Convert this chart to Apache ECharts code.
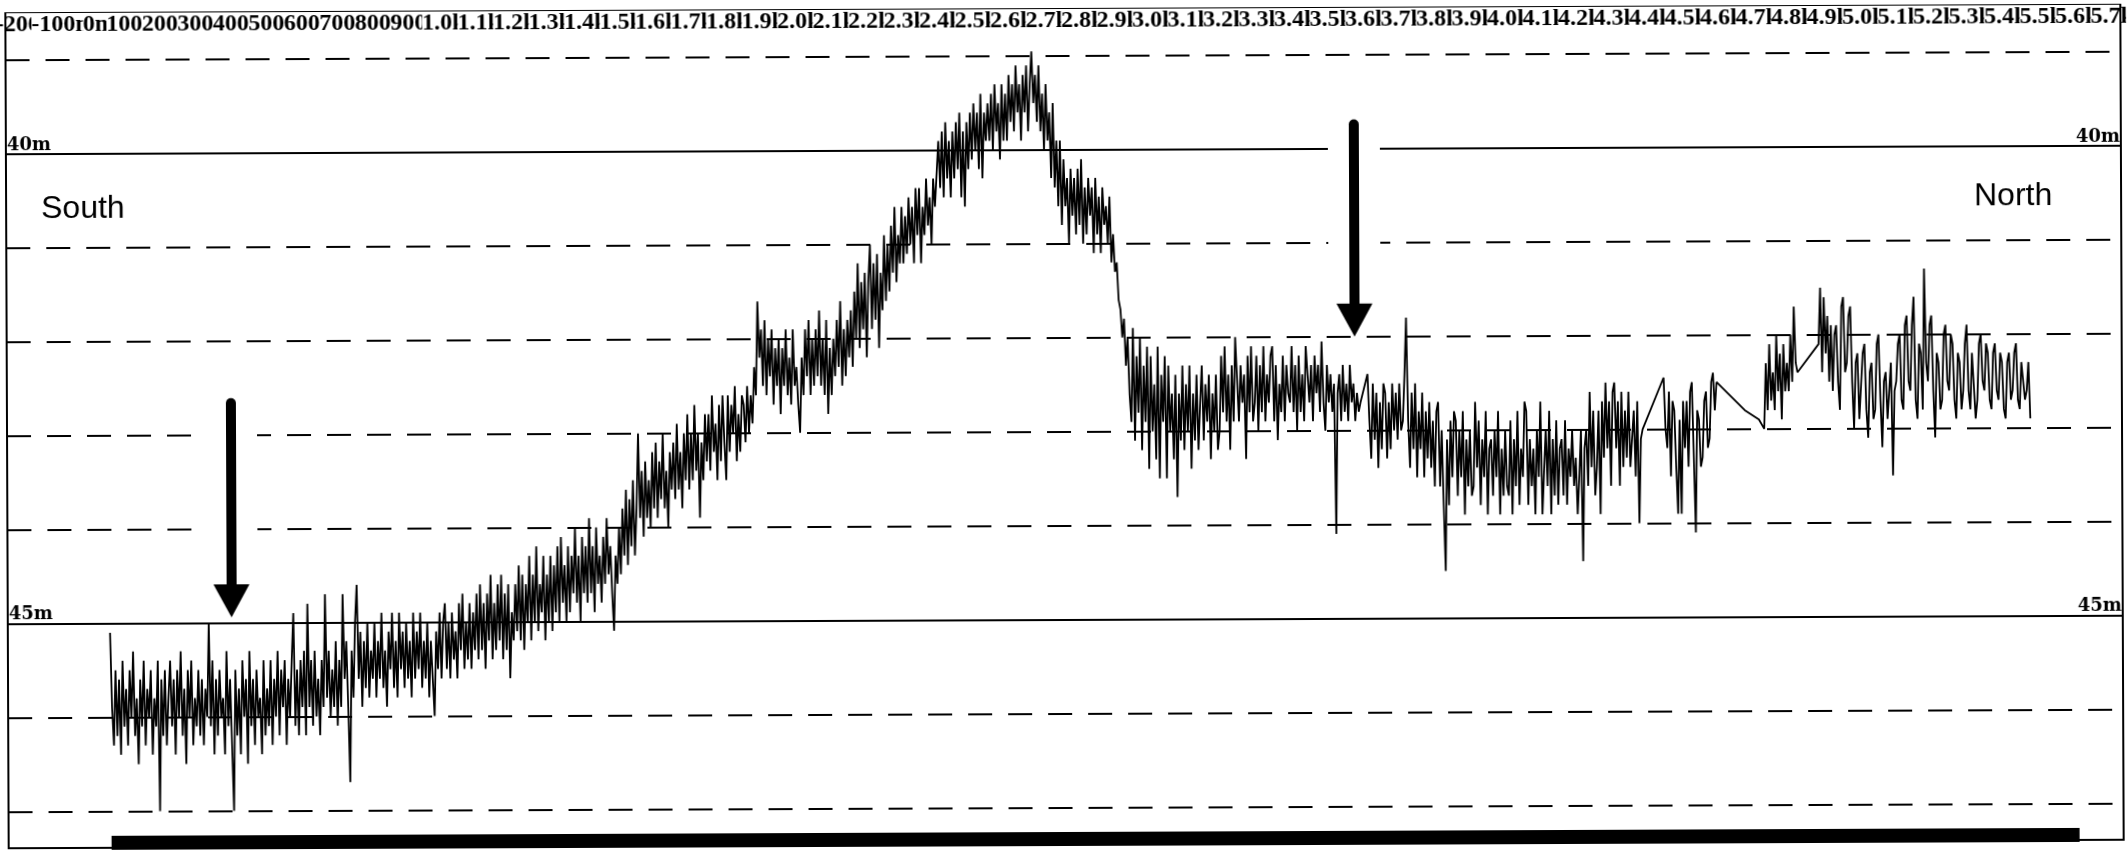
<!DOCTYPE html>
<html>
<head>
<meta charset="utf-8">
<script src="https://cdn.jsdelivr.net/npm/echarts@6/dist/echarts.min.js"></script>
<style>
  html, body { margin: 0; padding: 0; background: #fff; overflow: hidden; }
  #chart { width: 2128px; height: 851px; transform: rotate(-0.23deg); transform-origin: 50% 50%; }
</style>
</head>
<body>
<div id="chart"></div>
<script>
// Distance tick labels along the top edge (one per 100 m band)
const distanceLabels = [
  '-200m','-100m','0m','100m','200m','300m','400m','500m','600m','700m','800m','900m',
  '1.0km','1.1km','1.2km','1.3km','1.4km','1.5km','1.6km','1.7km','1.8km','1.9km',
  '2.0km','2.1km','2.2km','2.3km','2.4km','2.5km','2.6km','2.7km','2.8km','2.9km',
  '3.0km','3.1km','3.2km','3.3km','3.4km','3.5km','3.6km','3.7km','3.8km','3.9km',
  '4.0km','4.1km','4.2km','4.3km','4.4km','4.5km','4.6km','4.7km','4.8km','4.9km',
  '5.0km','5.1km','5.2km','5.3km','5.4km','5.5km','5.6km','5.7km'
];

// Depth reference lines (m); 40 m and 45 m are drawn solid and labelled
const depthLines = [39, 40, 41, 42, 43, 44, 45, 46, 47];
const labelledDepths = [40, 45];

// Soundings are logged every 5 m along track; each run starts at the distance below
const pingSpacing = 5;
const runStarts = [40, 3610, 4450, 4680, 4720, 4735, 4890];

// Run 1: 40 m - 3590 m (south flat, slope, crest and drop)
const depthsRun1 = [
  45.1,45.9,46.3,45.5,46.2,45.6,46.4,45.4,46.1,45.7,
  46.3,45.5,46.0,45.3,46.2,45.8,46.5,45.6,46.1,45.4,
  46.3,45.7,46.0,45.5,46.4,45.8,46.1,45.4,47.0,45.6,
  46.2,45.5,46.3,45.8,45.4,46.1,45.6,46.4,45.5,46.0,
  45.3,46.2,45.7,46.5,45.5,46.0,45.4,46.3,45.8,46.1,
  45.5,46.2,45.6,46.3,45.7,46.0,45.0,46.1,45.4,46.4,
  45.6,46.2,45.5,46.0,45.8,46.4,45.3,46.1,45.6,46.3,
  47.0,45.5,46.2,45.7,46.4,45.4,46.0,45.6,46.5,45.3,
  46.1,45.6,46.3,45.5,46.0,45.8,46.4,45.4,46.2,45.7,
  46.1,45.4,46.3,45.6,46.0,45.3,46.2,45.5,45.9,45.4,
  46.3,45.6,46.0,45.4,44.9,46.1,45.5,46.2,45.4,45.9,
  45.3,46.2,44.8,45.9,45.4,46.1,45.3,46.0,45.6,46.2,
  45.4,45.9,44.7,45.8,45.3,46.0,45.5,45.9,45.2,46.1,
  45.4,45.9,44.7,45.6,45.2,45.9,46.7,45.3,45.8,45.0,
  44.6,45.6,45.1,45.9,45.2,45.7,45.0,45.8,45.3,45.6,
  45.0,45.8,45.2,45.6,44.9,45.7,45.3,45.9,45.1,45.5,
  44.9,45.7,45.2,45.8,44.9,45.5,45.1,45.7,45.0,45.6,
  45.2,45.8,44.9,45.6,45.1,45.5,44.9,45.7,45.2,45.6,
  45.0,45.8,45.2,45.6,46.0,45.1,45.5,44.9,45.6,45.0,
  44.8,45.5,45.0,45.6,44.9,45.4,45.1,45.6,44.8,45.3,
  44.7,45.5,45.0,45.4,44.8,45.5,44.9,45.3,44.7,45.4,
  44.6,45.3,44.8,45.5,44.7,45.2,44.5,45.4,44.8,45.3,
  44.6,45.2,44.5,45.4,44.7,45.3,44.6,45.6,44.9,45.2,
  44.6,45.1,44.4,45.2,44.5,45.3,44.6,45.0,44.3,45.2,
  44.5,45.0,44.2,45.1,44.6,44.9,44.3,45.2,44.5,45.0,
  44.3,45.1,44.4,44.9,44.2,45.0,44.1,44.8,44.4,45.0,
  44.2,44.9,44.3,44.7,44.0,44.8,44.3,45.0,44.1,44.7,
  44.2,44.8,43.9,44.7,44.2,44.9,44.0,44.6,44.3,44.8,
  44.1,44.6,43.9,44.5,44.2,44.7,45.1,44.3,44.6,44.0,
  44.5,43.8,44.3,43.6,44.4,43.7,44.2,43.5,44.3,43.8,
  43.0,43.9,43.4,44.1,43.3,43.9,43.5,44.0,43.2,43.8,
  43.1,43.9,43.3,43.7,43.0,43.8,43.4,44.0,43.2,43.6,
  43.1,43.7,42.9,43.6,43.2,43.8,43.0,43.5,42.8,43.6,
  43.0,43.5,42.7,43.4,43.0,43.9,43.1,43.5,42.8,43.3,
  42.8,43.4,42.6,43.2,42.9,43.5,42.7,43.3,42.6,43.1,
  43.5,42.6,43.2,42.7,43.0,42.5,43.3,42.8,43.2,42.6,
  42.7,43.1,42.5,43.0,42.6,42.9,42.3,42.6,41.6,42.2,
  41.9,42.5,41.8,42.6,42.0,42.4,41.9,42.7,42.1,42.5,
  42.0,42.8,42.1,42.5,41.9,42.6,42.2,42.7,41.9,42.5,
  42.3,42.7,43.0,42.2,42.6,41.9,42.4,41.8,42.6,42.0,
  42.5,41.9,42.4,41.7,42.5,42.0,42.6,41.8,42.8,42.1,
  42.6,42.0,42.4,41.8,42.3,41.6,42.5,41.9,42.4,41.8,
  42.2,41.7,42.3,41.5,42.0,41.2,42.1,41.4,41.9,41.3,
  42.2,41.4,41.0,41.9,41.2,41.8,41.1,42.1,41.3,41.7,
  40.9,41.6,41.0,41.5,40.8,41.3,40.6,41.4,40.9,41.2,
  40.6,41.2,40.7,41.1,40.5,41.0,40.6,41.2,40.4,40.9,
  40.4,41.2,40.6,40.9,40.3,40.8,40.5,41.0,40.3,40.6,
  40.6,39.9,40.4,39.8,40.5,39.7,40.3,39.9,40.5,39.8,
  40.3,39.7,40.2,39.6,40.5,39.8,40.6,39.7,40.2,39.6,
  40.1,39.5,40.0,39.6,40.2,39.4,40.3,39.6,39.9,39.5,
  39.9,39.4,40.0,39.3,39.8,39.5,40.1,39.3,39.9,39.4,
  39.9,39.2,39.7,39.3,39.8,39.1,39.6,39.3,39.9,39.2,
  39.6,39.1,39.8,39.3,38.95,39.5,39.2,39.7,39.1,39.8,
  39.4,40.0,39.3,39.9,39.6,40.3,39.5,40.4,39.9,40.6,
  39.9,40.8,40.1,40.6,40.3,41.0,40.2,40.7,40.3,40.9,
  40.2,40.8,40.1,41.0,40.4,40.9,40.3,40.7,40.4,41.1,
  40.3,40.9,40.5,41.1,40.4,40.8,40.6,41.0,40.5,41.2,
  40.9,41.3,41.2,41.6,41.7,42.0,41.8,42.3,42.0,42.6,
  42.9,41.9,43.1,42.2,42.8,42.0,43.2,42.3,42.9,42.1,
  43.4,42.2,43.0,42.5,43.3,42.1,43.5,42.4,42.9,42.2,
  43.5,42.3,43.0,42.6,43.3,42.4,43.7,42.6,43.1,42.3,
  43.2,42.5,43.0,42.3,43.4,42.6,43.1,42.4,43.2,42.7,
  42.3,43.1,42.5,42.9,42.4,43.3,42.6,43.0,42.4,43.2,
  43.0,42.2,42.8,42.1,42.9,42.4,43.2,42.3,42.9,42.0,
  42.0,42.9,42.3,42.7,42.4,43.3,42.2,42.8,42.1,42.9,
  42.7,42.2,43.0,42.3,42.8,42.1,42.9,42.4,42.7,42.2,
  42.1,42.9,42.3,43.1,42.5,42.8,42.2,42.9,42.3,42.6,
  42.7,42.1,42.8,42.3,43.0,42.2,42.8,42.4,42.9,42.1,
  42.1,42.7,42.3,42.9,42.2,42.6,42.3,42.8,42.05,42.7,
  43.0,42.3,42.7,42.4,42.8,42.5,44.1,42.6,42.4,42.9,
  42.3,42.8,42.5,42.9,42.3,42.7,42.5,42.9,42.6,42.8,
  42.7
];

// Run 2: 3610 m - 4390 m
const depthsRun2 = [
  42.4,42.9,43.3,42.5,43.1,42.6,43.4,42.7,43.2,42.5,
  42.6,43.3,42.7,43.2,42.5,43.0,42.6,43.1,42.5,43.0,
  42.9,42.4,41.8,42.9,43.4,42.6,43.2,42.5,43.5,42.8,
  43.2,42.6,43.5,42.8,43.3,42.7,43.4,42.9,43.6,42.8,
  42.7,43.6,43.0,43.8,44.5,43.1,43.8,42.9,43.5,42.8,
  42.9,43.7,43.0,43.5,42.8,43.9,43.1,43.6,43.0,43.7,
  43.6,42.7,43.4,42.9,43.8,43.1,43.5,42.8,43.9,43.2,
  43.1,43.7,43.0,43.5,42.8,43.9,43.2,43.7,43.0,43.6,
  43.7,42.9,43.9,43.1,43.6,42.8,43.8,43.2,43.5,42.7,
  42.8,43.8,43.1,43.6,43.2,43.9,43.0,43.5,42.7,43.9,
  43.9,43.0,43.6,42.8,43.9,43.1,43.7,42.9,43.8,43.2,
  43.1,43.7,42.9,43.8,43.2,43.5,43.0,43.6,43.3,43.9,
  43.5,43.0,44.4,43.2,43.0,43.6,42.6,43.4,42.8,43.7,
  43.4,42.8,43.9,42.7,43.3,42.5,43.2,42.7,43.6,42.6,
  42.5,43.2,42.7,43.6,42.6,43.4,42.8,43.3,42.6,43.4,
  43.4,42.8,43.5,42.7,44.0,43.1,43.0
];

// Run 3: 4450 m - 4600 m
const depthsRun3 = [
  42.45,43.0,43.2,42.6,43.5,42.7,42.8,43.4,43.9,42.9,
  43.9,42.7,43.2,42.7,43.4,42.6,42.5,43.3,44.1,42.8,
  42.9,43.4,43.3,42.7,42.6,43.2,43.1,42.5,42.4,42.8,
  42.5
];

// Isolated soundings at 4680 m and 4720 m
const depthsRun4 = [42.8];
const depthsRun5 = [42.9];

// Run 6: 4735 m - 4830 m
const depthsRun6 = [
  43.0,42.3,42.8,42.1,42.7,42.4,42.8,42.0,42.6,42.2,
  42.9,42.1,42.6,42.3,42.6,42.0,42.5,41.7,42.3,42.4
];

// Run 7: 4890 m - 5490 m (north end)
const depthsRun7 = [
  42.1,41.5,42.4,41.6,42.2,41.8,42.5,41.9,42.6,42.0,
  41.9,42.5,42.8,41.7,41.6,42.4,42.3,41.8,41.7,42.5,
  43.0,42.3,42.2,42.9,42.9,42.2,42.1,42.8,43.1,42.4,
  42.3,42.9,42.8,42.1,42.0,42.7,43.2,42.5,42.4,42.9,
  42.9,42.3,43.5,42.6,42.5,42.1,42.0,42.7,42.8,41.9,
  41.8,42.5,42.6,41.9,41.6,42.7,42.9,42.1,42.2,42.8,
  41.3,42.3,42.5,41.9,41.8,42.6,43.1,42.2,42.3,42.8,
  42.7,42.0,41.9,42.5,42.6,42.0,42.1,42.7,42.9,42.2,
  42.3,42.8,42.6,42.1,41.9,42.6,42.8,42.2,42.2,42.9,
  42.7,42.1,42.0,42.5,42.6,42.1,42.2,42.7,42.8,42.2,
  42.1,42.6,42.7,42.2,42.3,42.8,42.9,42.3,42.2,42.7,
  42.6,42.2,42.1,42.7,42.8,42.3,42.3,42.7,42.6,42.3,
  42.9
];

const depthRuns = [depthsRun1, depthsRun2, depthsRun3, depthsRun4, depthsRun5, depthsRun6, depthsRun7];

// [distance along track (m), depth (m)] for the line series
const soundings = [];
depthRuns.forEach(function (run, r) {
  run.forEach(function (depth, i) {
    soundings.push([runStarts[r] + i * pingSpacing, depth]);
  });
});

// Marker arrows: [distance (m), shaft top depth, tip depth]
const markerArrows = [
  [385, 42.66, 44.94],
  [3574, 39.74, 42.0]
];

// Scale bar along the bottom edge: [start distance, end distance, depth]
const scaleBar = [42, 5625, 47.33];

const INK = '#000';
const labelFont = { fontFamily: 'Liberation Serif', fontWeight: 'bold', color: INK };
const depthFont = { fontFamily: 'DejaVu Serif', fontWeight: 'bold', color: INK };

const chart = echarts.init(document.getElementById('chart'), null, { renderer: 'canvas' });

// reference lines; solid ones carry a depth label at the left end
const gridLineData = depthLines.map(function (d) {
  const solid = labelledDepths.indexOf(d) >= 0;
  const item = {
    yAxis: d,
    lineStyle: { color: INK, width: 2, type: solid ? 'solid' : [24, 16] }
  };
  if (solid) {
    item.label = Object.assign({ show: true, position: 'insideStartTop', formatter: d + 'm', fontSize: 18, distance: [1, 0] }, depthFont);
  }
  return item;
});
// the same solid lines again, labelled at the right end
const rightLabelData = labelledDepths.map(function (d) {
  return {
    yAxis: d,
    lineStyle: { color: INK, width: 2, type: 'solid' },
    label: Object.assign({ show: true, position: 'insideEndTop', formatter: d + 'm', fontSize: 18, distance: [1, 0] }, depthFont)
  };
});

const TIP_HALF = 16.5 / 93.9; // half the arrow head height, in metres of depth
const borderAxis = { show: true, onZero: false, lineStyle: { color: INK, width: 2 } };

const option = {
  animation: false,
  backgroundColor: '#fff',
  grid: [
    {
      left: 7, right: 6, top: 9, bottom: 7,
      outerBoundsMode: 'none', containLabel: false,
      show: true, borderColor: INK, borderWidth: 2, backgroundColor: 'transparent'
    },
    // band layout for the distance labels along the top
    { left: 11.75, right: -13.75, top: 9, bottom: 7, outerBoundsMode: 'none', containLabel: false, show: false }
  ],
  xAxis: [
    { type: 'value', gridIndex: 0, min: -250, max: 5750, show: false },
    {
      type: 'category',
      gridIndex: 1,
      position: 'top',
      data: distanceLabels,
      boundaryGap: true,
      axisLine: { show: false },
      axisTick: { show: false },
      splitLine: { show: false },
      axisLabel: Object.assign({
        interval: 0,
        inside: true,
        margin: 0,
        fontSize: 24,
        backgroundColor: '#fff',
        padding: 0,
        hideOverlap: false
      }, labelFont)
    }
  ],
  yAxis: [
    {
      type: 'value', gridIndex: 0, inverse: true, min: 38.5, max: 47.39, position: 'left', z: 20,
      axisLine: borderAxis, axisTick: { show: false }, axisLabel: { show: false }, splitLine: { show: false }
    },
    {
      type: 'value', gridIndex: 0, inverse: true, min: 38.5, max: 47.39, position: 'right', z: 20,
      axisLine: borderAxis, axisTick: { show: false }, axisLabel: { show: false }, splitLine: { show: false }
    },
    { type: 'value', gridIndex: 1, show: false }
  ],
  series: [
    {
      name: 'depth lines',
      type: 'line',
      data: [],
      z: 1,
      markLine: {
        silent: true,
        symbol: 'none',
        label: { show: false },
        data: gridLineData.concat(rightLabelData)
      }
    },
    {
      name: 'arrow clearance',
      type: 'line',
      data: [],
      z: 2,
      markLine: {
        silent: true,
        symbol: 'none',
        label: { show: false },
        lineStyle: { color: '#fff', width: 52, type: 'solid', cap: 'butt' },
        data: markerArrows.map(function (a) {
          return [{ coord: [a[0], a[1] - 0.12] }, { coord: [a[0], a[2] - 0.62] }];
        })
      }
    },
    {
      name: 'profile',
      type: 'line',
      data: soundings,
      z: 3,
      showSymbol: false,
      symbol: 'none',
      lineStyle: { color: INK, width: 1.8 },
      silent: true
    },
    {
      name: 'arrows',
      type: 'line',
      data: [],
      z: 4,
      markLine: {
        silent: true,
        symbol: ['none', 'triangle'],
        symbolSize: [36, 33],
        label: { show: false },
        lineStyle: { color: INK, width: 10, type: 'solid', cap: 'round', opacity: 1 },
        itemStyle: { color: INK },
        data: markerArrows.map(function (a) {
          return [{ coord: [a[0], a[1]] }, { coord: [a[0], a[2] - TIP_HALF] }];
        })
      }
    },
    {
      name: 'scale bar',
      type: 'line',
      data: [],
      z: 4,
      markLine: {
        silent: true,
        symbol: 'none',
        label: { show: false },
        lineStyle: { color: INK, width: 14, type: 'solid', cap: 'butt' },
        data: [[{ coord: [scaleBar[0], scaleBar[2]] }, { coord: [scaleBar[1], scaleBar[2]] }]]
      }
    }
  ],
  graphic: [
    { type: 'text', left: 42, top: 189, style: { text: 'South', font: '32px "Liberation Sans"', fill: INK } },
    { type: 'text', left: 1975, top: 184, style: { text: 'North', font: '32px "Liberation Sans"', fill: INK } }
  ]
};

chart.setOption(option);
</script>
</body>
</html>
